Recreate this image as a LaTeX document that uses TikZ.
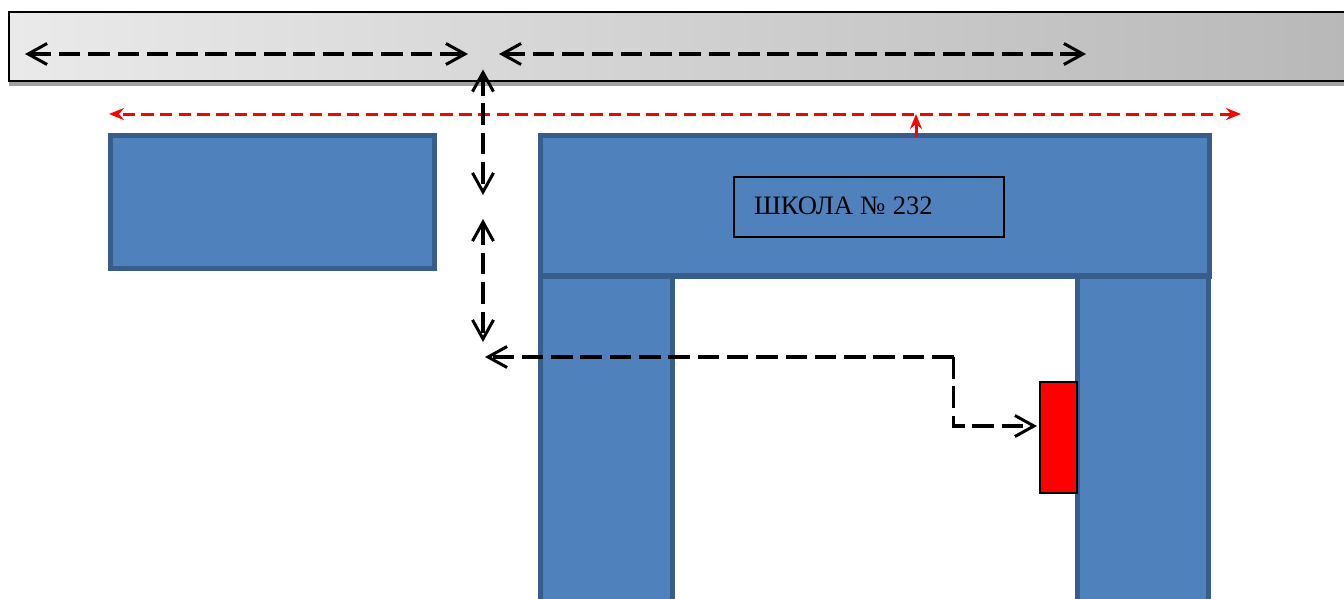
\documentclass[tikz,border=0pt]{standalone}
\usepackage{fontspec}
\setmainfont{Liberation Serif}
\usetikzlibrary{arrows.meta}
\definecolor{barL}{HTML}{EAEAEA}
\definecolor{barR}{HTML}{B8B8B8}
\definecolor{blueF}{HTML}{4F81BD}
\definecolor{blueD}{HTML}{385D8A}
\tikzset{
  x=1pt,y=-1pt,
  box/.style={rectangle,anchor=north west,inner sep=0pt,outer sep=0pt,minimum width=#1},
  wall/.style={box=#1,draw=blueD,fill=blueF,line width=5.5pt},
  conn/.style={draw=black,line width=3.1pt,dash pattern=on 21.5pt off 7.8pt,
    {Straight Barb[length=19pt,width=21pt,line width=3pt]}-{Straight Barb[length=19pt,width=21pt,line width=3pt]}},
  connend/.style={draw=black,line width=3.1pt,dash pattern=on 21.5pt off 7.8pt,
    -{Straight Barb[length=19pt,width=21pt,line width=3pt]}},
  red/.style={draw=red,line width=3pt,dash pattern=on 12.5pt off 6.2pt},
  redtip/.style={-{Stealth[length=15pt,width=12pt,inset=5pt]}},
}
\begin{document}
\begin{tikzpicture}
\useasboundingbox (0,0) rectangle (1344,598);
\clip (0,0) rectangle (1344,598);
% road
\fill[black!37] (9,16) rectangle (1350,86);
\node[box=1341pt,minimum height=69.5pt,draw=black,line width=2pt,left color=barL,right color=barR] (road) at (9,11.5) {};
% buildings
\node[wall=324pt,minimum height=133pt] (annex) at (110.5,135.5) {};
\node[wall=132pt,minimum height=340pt] (wingL) at (540.5,276.5) {};
\node[wall=131pt,minimum height=340pt] (wingR) at (1077.5,276.5) {};
\node[wall=669pt,minimum height=140.5pt] (school) at (540.5,135.5) {};
\node[box=270pt,minimum height=60pt,draw=black,line width=2pt,align=left,inner xsep=20.5pt,text width=229pt,font=\fontsize{26.6}{30}\selectfont] (sign) at (733.5,177) {\raisebox{2.5pt}{ШКОЛА\hspace{7.2pt}№\hspace{7.2pt}232}};
\node[box=37pt,minimum height=111pt,draw=black,line width=2pt,fill=red] (door) at (1039.5,382) {};
% free ends
\coordinate (a1) at (25,54);
\coordinate (a2) at (468,54);
\coordinate (b1) at (499,54);
\coordinate (b2) at (1086,54);
\coordinate (c1) at (483,69.5);
\coordinate (c2) at (483,195);
\coordinate (d1) at (483,219);
\coordinate (d2) at (483,342);
\coordinate (e1) at (485,357);
\coordinate (e2) at (953.5,357);
\coordinate (e3) at (953.5,426);
\coordinate (e4) at (1037,426);
\coordinate (r1) at (109,114);
\coordinate (r2) at (883,114);
\coordinate (r3) at (1241,114);
\coordinate (r4) at (916,137);
\coordinate (r5) at (916,114);
% connectors
\draw[conn] (a1) -- (a2);
\draw[conn] (b1) -- (b2);
\draw[red,redtip] (r2) -- (r1);
\draw[red,redtip] (r2) -- (r3);
\draw[draw=red,line width=3pt,redtip] (r4) -- (r5);
\draw[conn] (c1) -- (c2);
\draw[conn] (d1) -- (d2);
\draw[connend] (e2) -- (e1);
\draw[connend] (e2) -- (e3) -- (e4);
\end{tikzpicture}
\end{document}
